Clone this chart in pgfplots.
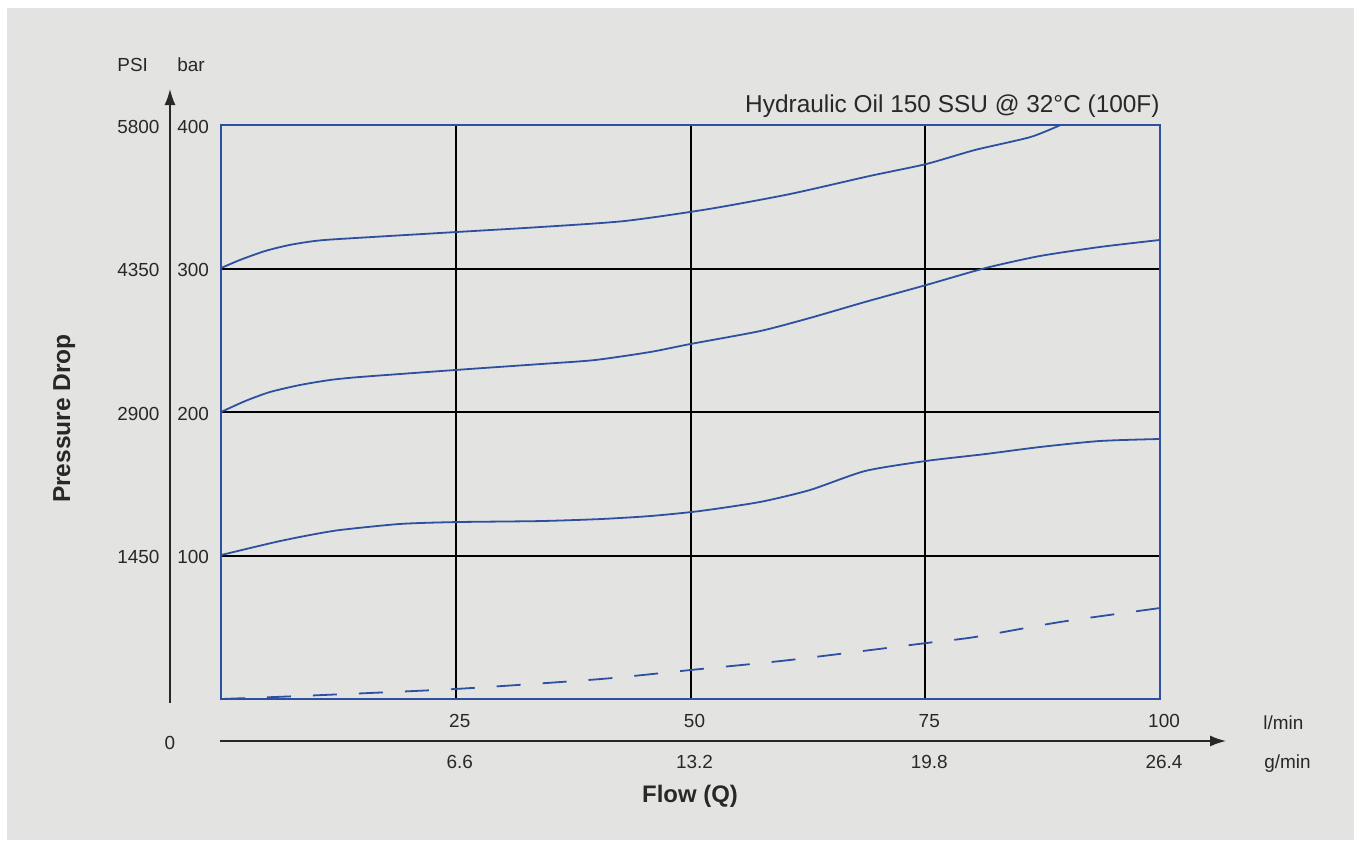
\documentclass[border=0pt]{standalone}
\usepackage{pgfplots}
\pgfplotsset{compat=1.18}
\usepackage{fontspec}
\setmainfont{Liberation Sans}
\usetikzlibrary{arrows.meta}
\definecolor{bgc}{RGB}{227,227,226}
\definecolor{lc}{RGB}{46,80,160}
\definecolor{tc}{RGB}{40,40,40}

\pgfplotstableread{
x y
0 300.3
2.0 305.9
4.7 312.2
7.3 316.4
10.0 319.2
12.7 320.6
25 325.4
34 328.9
43 333.1
52 341.5
60.6 351.9
69.1 364.5
75.1 372.8
80.3 382.6
86.2 391.6
89.4 400
}\topcurve
\pgfplotstableread{
x y
0 200
2.6 207.7
5.2 213.9
8.4 218.8
11.6 222.3
14.8 224.4
25 229.3
34 233.4
39.8 236.2
45.7 241.8
50 247.4
57.4 256.4
62.7 265.5
68.6 276.7
75.1 288.5
81.4 300.3
87.2 308.7
93.6 315.0
100 319.9
}\midcurve
\pgfplotstableread{
x y
0 100.3
3.1 105.2
6.3 110.1
9.5 114.3
12.7 117.8
19.1 122.0
25 123.3
34 124.0
40.4 125.4
45.7 127.5
51 131.0
57.4 137.3
62.7 145.6
68.6 158.9
75.1 165.9
81.4 170.7
87.2 175.6
93.6 179.8
100 181.2
}\lowcurve
\pgfplotstableread{
x y
0 0
8.4 2.1
25 7
40.4 13.9
50 20.2
60.6 27.2
75.1 39
80.3 43.2
89.4 53.7
100 63.4
}\dashcurve

\begin{document}
\begin{tikzpicture}[x=1bp,y=1bp]
\useasboundingbox (0,0) rectangle (677,420);
\fill[white] (0,0) rectangle (677,420);
\fill[bgc] (3.5,0) rectangle (677,416);
\begin{axis}[
  at={(110.5bp,70.5bp)}, anchor=south west,
  scale only axis, width=469.5bp, height=287bp,
  xmin=0, xmax=100, ymin=0, ymax=400,
  axis line style={lc, line width=1bp},
  xtick={25,50,75,100}, xticklabels={25,50,75,100},
  ytick={100,200,300,400}, yticklabels={100,200,300,400},
  major tick length=0pt,
  grid=major, major grid style={black, line width=1bp},
  tick label style={font=\fontsize{9.5}{11}\selectfont, text=tc, inner sep=0pt},
  xticklabel style={anchor=base, yshift=-14bp, xshift=2bp},
  yticklabel style={anchor=base west, xshift=-22bp, yshift=-4.15bp},
  extra x ticks={25,50,75,100},
  extra x tick labels={6.6,13.2,19.8,26.4},
  extra x tick style={grid=none, xticklabel style={yshift=-20.5bp}},
  extra y ticks={100,200,300,400},
  extra y tick labels={1450,2900,4350,5800},
  extra y tick style={grid=none, yticklabel style={xshift=-30bp}},
]
\addplot[lc, line width=0.9bp, smooth, tension=0.4] table {\topcurve};
\addplot[lc, line width=0.9bp, smooth, tension=0.4] table {\midcurve};
\addplot[lc, line width=0.9bp, smooth, tension=0.4] table {\lowcurve};
\addplot[lc, line width=0.9bp, smooth, tension=0.4, dash pattern=on 12bp off 11bp] table {\dashcurve};
\draw[lc, line width=1bp] (rel axis cs:0,0) rectangle (rel axis cs:1,1);
\end{axis}
\draw[line width=0.8bp, tc, -{Latex[length=8bp,width=5.5bp]}] (85,68.5) -- (85,375.5);
\draw[line width=0.8bp, tc, -{Latex[length=8bp,width=5.5bp]}] (110,49.5) -- (613,49.5);
\begin{scope}[every node/.style={text=tc, inner sep=0pt, font=\fontsize{9.5}{11}\selectfont}]
\node[anchor=base west] at (58.5,384.5) {PSI};
\node[anchor=base west] at (88.5,384.5) {bar};
\node[anchor=base] at (85,45.5) {0};
\node[anchor=base west] at (631.5,55.5) {l/min};
\node[anchor=base west] at (632,36) {g/min};
\node[anchor=base east, font=\fontsize{12.25}{14}\selectfont] at (580,364) {Hydraulic Oil 150 SSU @ 32°C (100F)};
\node[anchor=base, font=\fontsize{12}{14}\selectfont\bfseries] at (345,19) {Flow (Q)};
\node[anchor=base, rotate=90, font=\fontsize{12.3}{14}\selectfont\bfseries] at (35,210.75) {Pressure Drop};
\end{scope}
\end{tikzpicture}
\end{document}
